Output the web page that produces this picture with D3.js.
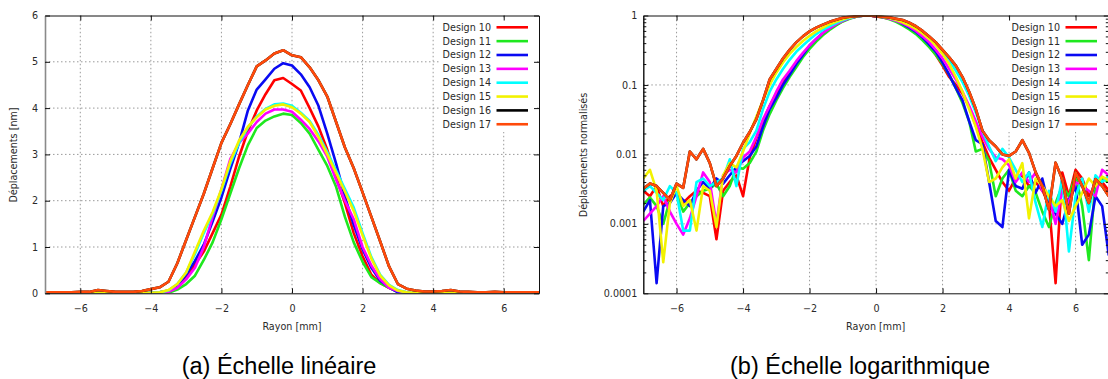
<!DOCTYPE html>
<html><head><meta charset="utf-8">
<script src="https://cdn.jsdelivr.net/npm/d3@7"></script>
<style>
html,body{margin:0;padding:0;background:#fff;}
svg{display:block;}
</style></head>
<body>
<svg id="c" width="1108" height="379"></svg>
<script>
// ---------- DATA ----------
const designNames = ["Design 10","Design 11","Design 12","Design 13","Design 14","Design 15","Design 16","Design 17"];
const designColors = ["#ff0000","#1fe81f","#0a0af2","#ff00ff","#00ffff","#f2f200","#000000","#ff4a0a"];

const xTicks = [-6,-4,-2,0,2,4,6];
const linYTicks = [0,1,2,3,4,5,6];
const logYTicks = [0.0001,0.001,0.01,0.1,1];
const logYTickLabels = ["0.0001","0.001","0.01","0.1","1"];

// radius [mm] for the linear panel
const linRadius = [-7,-6.75,-6.5,-6.25,-6,-5.75,-5.5,-5.25,-5,-4.75,-4.5,-4.25,-4,-3.75,-3.5,-3.25,-3,-2.75,-2.5,-2.25,-2,-1.75,-1.5,-1.25,-1,-0.75,-0.5,-0.25,0,0.25,0.5,0.75,1,1.25,1.5,1.75,2,2.25,2.5,2.75,3,3.25,3.5,3.75,4,4.25,4.5,4.75,5,5.25,5.5,5.75,6,6.25,6.5,6.75,7];

// displacement [nm]
const lin10 = [0.01,0.01,0.01,0.01,0.01,0.01,0.01,0.01,0.01,0.01,0.01,0.02,0.02,0.02,0.04,0.15,0.35,0.62,0.9,1.3,1.7,2.3,2.95,3.5,3.95,4.3,4.6,4.65,4.52,4.38,4.0,3.6,3.1,2.5,1.95,1.3,0.8,0.4,0.22,0.12,0.04,0.01,0.01,0.01,0.01,0.01,0.01,0.01,0.01,0.01,0.01,0.01,0.01,0.01,0.01,0.01,0.01];
const lin11 = [0.01,0.01,0.01,0.01,0.01,0.01,0.01,0.01,0.01,0.01,0.01,0.01,0.01,0.01,0.01,0.08,0.2,0.38,0.72,1.1,1.6,2.15,2.7,3.2,3.57,3.73,3.82,3.88,3.85,3.68,3.45,3.1,2.75,2.3,1.65,1.1,0.68,0.35,0.22,0.12,0.03,0.01,0.01,0.01,0.01,0.01,0.01,0.01,0.01,0.01,0.01,0.01,0.01,0.01,0.01,0.01,0.01];
const lin12 = [0.01,0.01,0.01,0.01,0.01,0.01,0.01,0.01,0.01,0.01,0.01,0.01,0.02,0.02,0.06,0.18,0.4,0.7,1.05,1.55,2.07,2.68,3.25,3.95,4.4,4.62,4.85,4.97,4.92,4.73,4.45,4.05,3.45,2.8,2.09,1.48,0.95,0.55,0.27,0.13,0.02,0.01,0.0,0.0,0.01,0.01,0.01,0.01,0.01,0.01,0.01,0.01,0.01,0.01,0.01,0.01,0.01];
const lin13 = [0.01,0.01,0.01,0.01,0.01,0.01,0.01,0.01,0.01,0.01,0.01,0.01,0.01,0.02,0.03,0.12,0.3,0.55,1.0,1.65,2.25,2.9,3.25,3.45,3.7,3.88,3.97,3.97,3.92,3.75,3.55,3.28,2.95,2.45,2.0,1.6,1.0,0.6,0.3,0.12,0.05,0.02,0.01,0.01,0.01,0.01,0.01,0.01,0.01,0.01,0.01,0.01,0.01,0.01,0.01,0.01,0.01];
const lin14 = [0.01,0.01,0.01,0.01,0.01,0.01,0.01,0.01,0.01,0.01,0.01,0.01,0.01,0.02,0.06,0.2,0.45,0.85,1.3,1.72,2.22,2.8,3.25,3.58,3.82,3.98,4.08,4.1,4.05,3.9,3.72,3.42,3.05,2.65,2.25,1.85,1.3,0.78,0.4,0.18,0.07,0.02,0.01,0.01,0.01,0.01,0.01,0.01,0.01,0.01,0.01,0.01,0.01,0.01,0.01,0.01,0.01];
const lin15 = [0.01,0.01,0.01,0.01,0.01,0.01,0.01,0.01,0.01,0.01,0.01,0.01,0.01,0.02,0.07,0.2,0.45,0.9,1.35,1.75,2.25,2.85,3.3,3.6,3.8,3.97,4.05,4.08,4.02,3.88,3.7,3.38,3.0,2.6,2.2,1.78,1.25,0.75,0.38,0.17,0.06,0.02,0.01,0.01,0.01,0.01,0.01,0.01,0.01,0.01,0.01,0.01,0.01,0.01,0.01,0.01,0.01];
const lin17 = [0.02,0.02,0.02,0.02,0.03,0.03,0.07,0.05,0.03,0.03,0.03,0.05,0.09,0.13,0.25,0.65,1.15,1.65,2.15,2.7,3.25,3.65,4.08,4.5,4.9,5.03,5.18,5.25,5.14,5.1,4.88,4.6,4.25,3.7,3.15,2.7,2.18,1.65,1.12,0.58,0.2,0.1,0.06,0.04,0.04,0.05,0.07,0.04,0.03,0.02,0.02,0.03,0.02,0.02,0.02,0.02,0.02];
const lin16 = lin17.slice(); // hidden beneath Design 17

// radius [mm] for the log panel
const logRadius = [-7,-6.8,-6.6,-6.4,-6.2,-6,-5.8,-5.6,-5.4,-5.2,-5,-4.8,-4.6,-4.4,-4.2,-4,-3.8,-3.6,-3.4,-3.2,-3,-2.8,-2.6,-2.4,-2.2,-2,-1.8,-1.6,-1.4,-1.2,-1,-0.8,-0.6,-0.4,-0.2,0,0.2,0.4,0.6,0.8,1,1.2,1.4,1.6,1.8,2,2.2,2.4,2.6,2.8,3,3.2,3.4,3.6,3.8,4,4.2,4.4,4.6,4.8,5,5.2,5.4,5.6,5.8,6,6.2,6.4,6.6,6.8,7];

// normalised displacement
const log10v = [0.003,0.0025,0.0035,0.0018,0.0025,0.0028,0.002,0.0025,0.003,0.0028,0.0025,0.0006,0.003,0.004,0.005,0.0025,0.009,0.017,0.03,0.05,0.075,0.11,0.15,0.2,0.27,0.35,0.44,0.54,0.64,0.74,0.83,0.91,0.96,0.99,1.0,0.97,0.94,0.9,0.85,0.75,0.65,0.56,0.46,0.36,0.27,0.19,0.13,0.1,0.075,0.048,0.026,0.015,0.009,0.006,0.004,0.003,0.0045,0.005,0.0035,0.004,0.003,0.002,0.00014,0.0055,0.0025,0.006,0.0045,0.0025,0.0035,0.004,0.003];
const log11v = [0.0019,0.0024,0.0018,0.001,0.0022,0.0028,0.0015,0.002,0.0025,0.003,0.0032,0.0038,0.0025,0.0035,0.0065,0.0062,0.0075,0.011,0.022,0.038,0.06,0.09,0.13,0.18,0.25,0.33,0.42,0.52,0.62,0.72,0.82,0.9,0.96,0.99,1.0,0.98,0.94,0.88,0.81,0.72,0.63,0.54,0.44,0.35,0.27,0.2,0.14,0.09,0.055,0.03,0.011,0.012,0.008,0.0025,0.0045,0.006,0.003,0.0025,0.0035,0.0028,0.0015,0.0009,0.002,0.0035,0.0025,0.005,0.0018,0.0003,0.004,0.0045,0.004];
const log12v = [0.0015,0.0022,0.00014,0.0018,0.002,0.0028,0.0022,0.0018,0.003,0.004,0.0032,0.0045,0.0038,0.005,0.0065,0.008,0.0095,0.013,0.025,0.045,0.065,0.1,0.14,0.2,0.27,0.37,0.46,0.56,0.66,0.76,0.85,0.92,0.97,0.99,1.0,0.98,0.95,0.91,0.86,0.76,0.67,0.58,0.48,0.38,0.3,0.21,0.14,0.09,0.06,0.03,0.016,0.014,0.004,0.0011,0.0009,0.006,0.0035,0.0032,0.0055,0.0028,0.0045,0.0018,0.0014,0.001,0.0022,0.0035,0.0005,0.0007,0.0025,0.0018,0.00035];
const log13v = [0.0011,0.0014,0.0018,0.0025,0.0015,0.001,0.0007,0.0012,0.0025,0.0055,0.004,0.001,0.005,0.006,0.0055,0.009,0.011,0.018,0.032,0.05,0.08,0.12,0.16,0.22,0.29,0.37,0.46,0.56,0.65,0.75,0.84,0.91,0.97,1.0,1.0,0.98,0.95,0.9,0.84,0.77,0.69,0.6,0.5,0.41,0.32,0.24,0.17,0.12,0.08,0.05,0.03,0.018,0.012,0.009,0.0085,0.007,0.004,0.0055,0.004,0.0055,0.003,0.0025,0.001,0.003,0.002,0.004,0.0035,0.003,0.0025,0.006,0.005];
const log14v = [0.003,0.0035,0.0028,0.0022,0.0035,0.0028,0.0008,0.0008,0.004,0.0045,0.0035,0.004,0.0045,0.0085,0.0035,0.012,0.015,0.022,0.045,0.08,0.12,0.17,0.23,0.3,0.37,0.45,0.54,0.62,0.7,0.78,0.86,0.92,0.97,1.0,1.0,0.99,0.96,0.92,0.87,0.81,0.74,0.66,0.57,0.48,0.39,0.31,0.23,0.16,0.11,0.07,0.04,0.022,0.013,0.008,0.012,0.009,0.006,0.004,0.0055,0.002,0.0009,0.003,0.0015,0.0045,0.0004,0.0025,0.0045,0.0015,0.005,0.004,0.0048];
const log15v = [0.0045,0.006,0.003,0.00028,0.002,0.0035,0.0018,0.0022,0.0008,0.0035,0.003,0.0009,0.005,0.0075,0.0065,0.011,0.02,0.035,0.06,0.1,0.15,0.21,0.28,0.35,0.43,0.51,0.59,0.67,0.75,0.82,0.88,0.94,0.98,1.0,1.0,0.99,0.96,0.92,0.87,0.8,0.72,0.64,0.55,0.46,0.37,0.28,0.2,0.13,0.08,0.045,0.025,0.012,0.004,0.0045,0.0065,0.0085,0.0045,0.0075,0.0012,0.0045,0.0035,0.0025,0.0018,0.0022,0.0011,0.0018,0.0028,0.0045,0.0035,0.0048,0.0042];
const log17v = [0.0032,0.0038,0.0035,0.0028,0.0022,0.0038,0.0033,0.011,0.0085,0.012,0.0075,0.0035,0.0045,0.0068,0.0095,0.0147,0.021,0.032,0.06,0.12,0.17,0.24,0.32,0.41,0.5,0.59,0.67,0.74,0.81,0.87,0.93,0.96,0.98,1.0,1.0,0.98,0.96,0.94,0.9,0.86,0.79,0.7,0.6,0.5,0.41,0.32,0.25,0.19,0.13,0.08,0.045,0.022,0.016,0.013,0.01,0.0095,0.011,0.016,0.0105,0.0055,0.0035,0.0016,0.0076,0.0044,0.0014,0.0055,0.0035,0.002,0.0044,0.0035,0.0025];
const log16v = log17v.slice(); // hidden beneath Design 17

const linSeries = [lin10,lin11,lin12,lin13,lin14,lin15,lin16,lin17];
const logSeries = [log10v,log11v,log12v,log13v,log14v,log15v,log16v,log17v];

// ---------- DRAW ----------
const svg = d3.select("#c");
const TXT = "#2a2a2a";
const FONT = "'DejaVu Sans', sans-serif";

function panel(opts){
  const {x, y, series, radius, yTicks, yLabels, yTitle, yTitleX, legendTextEnd, minor, leftGray, yPad} = opts;
  const [x0,x1] = x.range();
  const [y0,y1] = y.range();
  const g = svg.append("g");

  g.append("g").selectAll("line").data(xTicks).join("line")
    .attr("x1",d=>x(d)).attr("x2",d=>x(d)).attr("y1",y0).attr("y2",y1)
    .attr("stroke","#9a9a9a").attr("stroke-width",1).attr("stroke-dasharray","1.5,2.5");
  g.append("g").selectAll("line").data(yTicks.slice(1,-1)).join("line")
    .attr("x1",x0).attr("x2",x1).attr("y1",d=>y(d)).attr("y2",d=>y(d))
    .attr("stroke","#9a9a9a").attr("stroke-width",1).attr("stroke-dasharray","1.5,2.5");

  const clipId = "clip"+Math.round(x0);
  svg.append("clipPath").attr("id",clipId).append("rect")
    .attr("x",x0).attr("y",y1).attr("width",x1-x0).attr("height",y0-y1);
  const line = d3.line().x((d,i)=>x(radius[i])).y(d=>y(d));
  g.append("g").attr("clip-path","url(#"+clipId+")").selectAll("path").data(series).join("path")
    .attr("d",d=>line(d)).attr("fill","none")
    .attr("stroke",(d,i)=>designColors[i]).attr("stroke-width",2.6)
    .attr("stroke-linejoin","round");

  const lg = g.append("g");
  lg.append("rect").attr("x",legendTextEnd-52).attr("y",18).attr("width",96).attr("height",114).attr("fill","#fff");
  designNames.forEach((n,i)=>{
    const yy = 27.3 + i*13.85;
    lg.append("text").attr("x",legendTextEnd).attr("y",yy).attr("dy","0.35em")
      .attr("text-anchor","end").style("font-family",FONT).style("font-size","9.6px").attr("fill",TXT).text(n);
    lg.append("line").attr("x1",legendTextEnd+5.5).attr("x2",legendTextEnd+37)
      .attr("y1",yy).attr("y2",yy).attr("stroke",designColors[i]).attr("stroke-width",2.6);
  });

  g.append("g").attr("transform",`translate(0,${y0})`)
    .call(d3.axisBottom(x).tickValues(xTicks).tickSize(-5).tickSizeOuter(0).tickPadding(12).tickFormat(d3.format("")));
  g.append("g").attr("transform",`translate(0,${y1})`)
    .call(d3.axisTop(x).tickValues(xTicks).tickSize(-5).tickSizeOuter(0).tickFormat(""));
  const left = g.append("g").attr("transform",`translate(${x0},0)`)
    .call(d3.axisLeft(y).tickValues(yTicks).tickSize(-5).tickSizeOuter(0).tickPadding(yPad).tickFormat((d,i)=>yLabels[i]));
  g.append("g").attr("transform",`translate(${x1},0)`)
    .call(d3.axisRight(y).tickValues(yTicks).tickSize(-5).tickSizeOuter(0).tickFormat(""));
  if (minor){
    g.append("g").attr("transform",`translate(${x0},0)`)
      .call(d3.axisLeft(y).tickValues(minor).tickSize(-3).tickSizeOuter(0).tickFormat(""));
    g.append("g").attr("transform",`translate(${x1},0)`)
      .call(d3.axisRight(y).tickValues(minor).tickSize(-3).tickSizeOuter(0).tickFormat(""));
  }
  g.selectAll(".tick line").attr("stroke","#111");
  g.selectAll(".domain").attr("stroke","#111");
  g.selectAll(".tick text").style("font-size","9.6px").attr("fill",TXT).style("font-family",FONT);
  if (leftGray) left.select(".domain").attr("stroke","#8a8a8a").attr("stroke-width",1.6);

  g.append("text").attr("x",(x0+Math.min(x1,1108))/2 ).attr("y",327).attr("dy","0.35em")
    .attr("text-anchor","middle").style("font-family",FONT).style("font-size","9.6px").attr("fill",TXT).text("Rayon [mm]");
  g.append("text").attr("transform",`translate(${yTitleX},155) rotate(-90)`).attr("dy","0.35em")
    .attr("text-anchor","middle").style("font-family",FONT).style("font-size","9.6px").attr("fill",TXT).text(yTitle);
}

const xL = d3.scaleLinear().domain([-7,7]).range([45,539]);
const yL = d3.scaleLinear().domain([0,6]).range([293.3,15.5]);
panel({x:xL, y:yL, series:linSeries, radius:linRadius, yTicks:linYTicks, yLabels:linYTicks.map(String),
  yTitle:"Déplacements [nm]", yTitleX:14, legendTextEnd:491, minor:null, leftGray:true, yPad:7});

const xR = d3.scaleLinear().domain([-7,7]).range([643.3,1108.8]);
const yR = d3.scaleLog().domain([0.0001,1]).range([293.3,15.5]);
const minorTicks = [];
[0.0001,0.001,0.01,0.1].forEach(b=>{ [2,3,4,5,6,7,8,9].forEach(m=>minorTicks.push(b*m)); });
panel({x:xR, y:yR, series:logSeries, radius:logRadius, yTicks:logYTicks, yLabels:logYTickLabels,
  yTitle:"Déplacements normalisés", yTitleX:584, legendTextEnd:1060, minor:minorTicks, leftGray:false, yPad:6});

const CAP = "'Liberation Sans', Arial, sans-serif";
svg.append("text").attr("x",279).attr("y",374).attr("text-anchor","middle")
  .style("font-family",CAP).style("font-size","23.5px").attr("fill","#000")
  .text("(a) Échelle linéaire");
svg.append("text").attr("x",860).attr("y",374).attr("text-anchor","middle")
  .style("font-family",CAP).style("font-size","23.5px").attr("fill","#000")
  .text("(b) Échelle logarithmique");
</script>
</body></html>
